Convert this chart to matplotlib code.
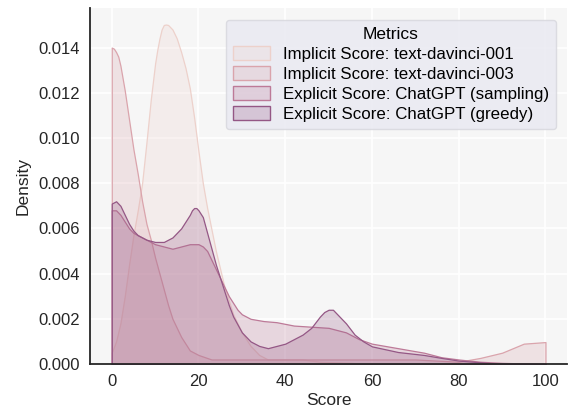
import matplotlib
matplotlib.use("Agg")
import matplotlib.pyplot as plt
from matplotlib.patches import Patch
from matplotlib.colors import to_rgba
import seaborn as sns

# density curves (score -> density)
labels = [
    "Implicit Score: text-davinci-001",
    "Implicit Score: text-davinci-003",
    "Explicit Score: ChatGPT (sampling)",
    "Explicit Score: ChatGPT (greedy)",
]

x_001 = [0, 1, 2, 3, 4, 5, 6, 7, 8, 9, 10, 10.5, 11, 11.5, 12, 12.5, 13, 13.5, 14,
         15, 16, 17, 18, 19, 20, 21, 22, 24, 26, 28, 30, 32, 34, 36, 40, 44, 48,
         55, 60, 100]
d_001 = [0.0005, 0.0010, 0.0018, 0.0030, 0.0044, 0.0057, 0.0068, 0.0080, 0.0098,
         0.0117, 0.0133, 0.0139, 0.0144, 0.0148, 0.0150, 0.01502, 0.0150, 0.0149,
         0.0148, 0.0144, 0.0138, 0.0131, 0.0122, 0.0109, 0.0094, 0.0080, 0.0069,
         0.0050, 0.0034, 0.0022, 0.0014, 0.0008, 0.0004, 0.0002, 0.0002, 0.0002,
         0.0001, 0.00005, 0.0, 0.0]

x_003 = [0, 0.5, 1, 1.5, 2, 3, 4, 5, 6, 7, 8, 9, 10, 11, 12, 13, 14, 16, 18, 20, 23,
         30, 40, 50, 60, 70, 80, 85, 90, 95, 100]
d_003 = [0.0140, 0.01395, 0.0138, 0.0136, 0.0132, 0.0121, 0.0108, 0.0095, 0.0084,
         0.0072, 0.0062, 0.0055, 0.0047, 0.0040, 0.0033, 0.0026, 0.0020, 0.0012,
         0.0006, 0.0004, 0.0002, 0.0002, 0.0002, 0.0002, 0.0002, 0.0002, 0.0001,
         0.00027, 0.0005, 0.0009, 0.00097]

x_samp = [0, 1, 2, 3, 4, 5, 6, 8, 10, 12, 14, 16, 18, 20, 21, 22, 23, 24, 25, 26,
          27, 28, 29, 30, 32, 35, 38, 42, 46, 50, 54, 57, 60, 66, 72, 76, 80, 85,
          90, 100]
d_samp = [0.0068, 0.0068, 0.0066, 0.0063, 0.0060, 0.0058, 0.0057, 0.0055, 0.0053,
          0.0052, 0.0051, 0.0052, 0.0053, 0.0053, 0.0052, 0.0050, 0.0046, 0.0042,
          0.0038, 0.0034, 0.0030, 0.0027, 0.0024, 0.0022, 0.0020, 0.0019, 0.00185,
          0.0017, 0.00165, 0.0016, 0.0014, 0.0011, 0.0009, 0.0007, 0.0005, 0.0003,
          0.0002, 0.0001, 0.00005, 0.0]

x_greedy = [0, 1, 2, 3, 4, 5, 6, 8, 10, 12, 14, 16, 17, 18, 18.5, 19, 19.5, 20, 21,
            22, 23, 24, 25, 26, 27, 28, 30, 32, 34, 36, 38, 40, 42, 44, 46, 48, 49,
            50, 51, 52, 54, 56, 58, 60, 66, 72, 76, 80, 90, 100]
d_greedy = [0.0071, 0.0072, 0.0070, 0.0066, 0.0062, 0.0059, 0.0057, 0.0055, 0.0054,
            0.0054, 0.0056, 0.0060, 0.0063, 0.0066, 0.0068, 0.0069, 0.0069, 0.0068,
            0.0065, 0.0058, 0.0051, 0.0044, 0.0038, 0.0032, 0.0026, 0.0021, 0.0014,
            0.0010, 0.0008, 0.0007, 0.0008, 0.0009, 0.0011, 0.0013, 0.0016, 0.0021,
            0.0023, 0.0024, 0.0024, 0.0022, 0.0018, 0.0013, 0.0010, 0.00078,
            0.00053, 0.0004, 0.00027, 0.00015, 0.0, 0.0]

xs = [x_001, x_003, x_samp, x_greedy]
ds = [d_001, d_003, d_samp, d_greedy]

colors = sns.cubehelix_palette(6)[:4]

plt.rcParams["font.family"] = ["Liberation Sans", "DejaVu Sans"]
plt.rcParams["font.size"] = 12

fig = plt.figure(figsize=(5.7, 4.12), dpi=100)
ax = fig.add_axes([0.158, 0.1165, 0.837, 0.864])
ax.set_facecolor("#f6f6f6")
ax.grid(True, color="white", linewidth=1.2)
ax.set_axisbelow(True)

for x, d, c in zip(xs, ds, colors):
    ax.fill_between(x, 0, d, facecolor=to_rgba(c, 0.25), edgecolor=c, linewidth=0.9)

ax.set_xlim(-5, 105)
ax.set_ylim(0, 0.01575)
ax.set_xticks([0, 20, 40, 60, 80, 100])
ax.set_yticks([0, 0.002, 0.004, 0.006, 0.008, 0.010, 0.012, 0.014])
ax.set_yticklabels([f"{v:.3f}" for v in ax.get_yticks()])
ax.tick_params(length=0, labelsize=12, colors="#262626", pad=7)

for s in ["top", "right"]:
    ax.spines[s].set_visible(False)
for s in ["left", "bottom"]:
    ax.spines[s].set_color("#262626")
    ax.spines[s].set_linewidth(1.3)

ax.set_xlabel("Score", fontsize=12.5, color="#262626", labelpad=3)
ax.set_ylabel("Density", fontsize=12.5, color="#262626", labelpad=6)

handles = [Patch(facecolor=to_rgba(c, 0.25), edgecolor=c, linewidth=1.0) for c in colors]
leg = ax.legend(handles, labels, title="Metrics", loc="upper right",
                bbox_to_anchor=(0.995, 0.99), fontsize=12.2, title_fontsize=12.5,
                facecolor="#eaeaf2", edgecolor="#d8d8de", framealpha=0.85,
                handlelength=2.2, handleheight=0.9, labelspacing=0.25,
                borderpad=0.4, handletextpad=0.8)

fig.savefig("out.png", dpi=100)
